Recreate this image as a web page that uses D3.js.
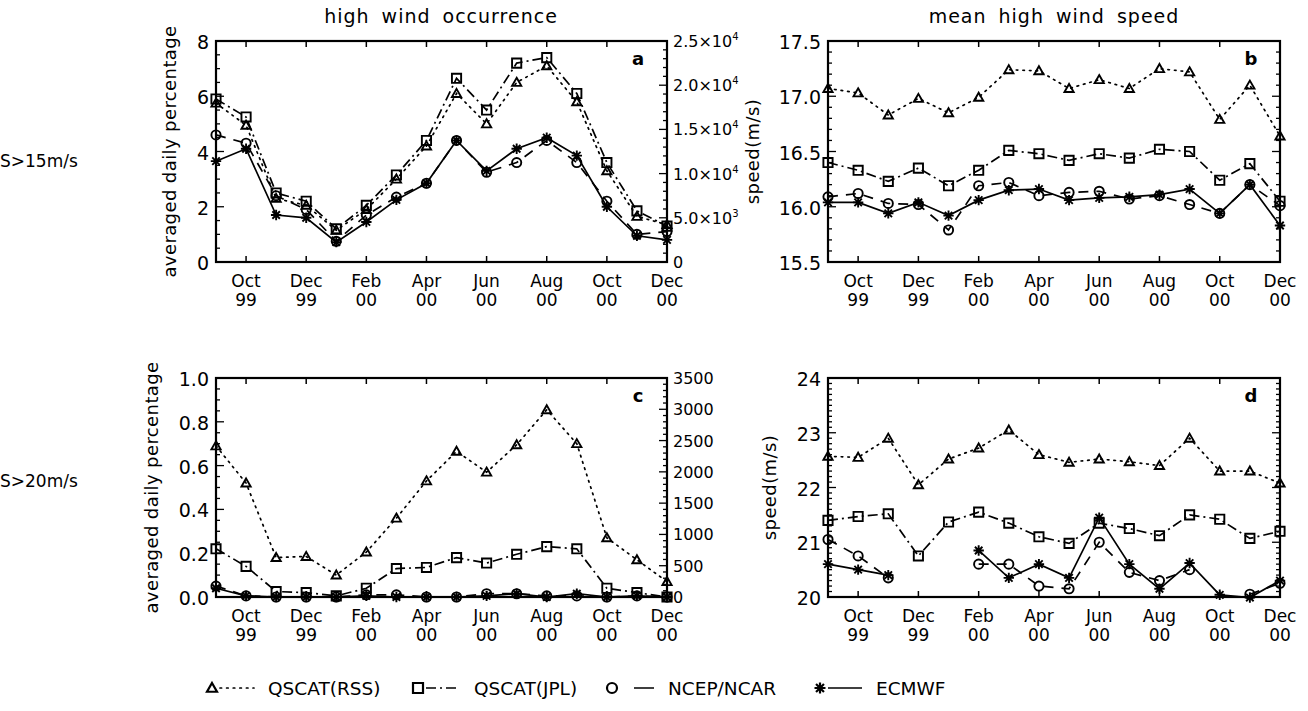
<!DOCTYPE html>
<html>
<head>
<meta charset="utf-8">
<script src="https://cdn.jsdelivr.net/npm/d3@7"></script>
<style>
  body { margin: 0; background: #fff; }
  svg text { font-family: "DejaVu Sans", sans-serif; fill: #000; }
</style>
</head>
<body>
<script>
// months Sep 99 .. Dec 00
const months = ["Sep 99","Oct 99","Nov 99","Dec 99","Jan 00","Feb 00","Mar 00","Apr 00",
                "May 00","Jun 00","Jul 00","Aug 00","Sep 00","Oct 00","Nov 00","Dec 00"];
const tickMonths = [1, 3, 5, 7, 9, 11, 13, 15];
const tickLabels = [["Oct","99"],["Dec","99"],["Feb","00"],["Apr","00"],["Jun","00"],["Aug","00"],["Oct","00"],["Dec","00"]];
const seriesNames = ["QSCAT(RSS)", "QSCAT(JPL)", "NCEP/NCAR", "ECMWF"];

// a: occurrence S>15 (%)
const occ15RSS  = [5.75, 4.95, 2.3, 2.05, 1.15, 1.9, 3.0, 4.2, 6.1, 5.0, 6.5, 7.1, 5.8, 3.3, 1.65, 1.35];
const occ15JPL  = [5.9, 5.25, 2.5, 2.2, 1.2, 2.05, 3.15, 4.4, 6.65, 5.5, 7.2, 7.4, 6.1, 3.6, 1.85, 1.3];
const occ15NCEP = [4.6, 4.3, 2.4, 1.9, 0.75, 1.7, 2.35, 2.85, 4.4, 3.25, 3.6, 4.4, 3.6, 2.2, 1.0, 1.1];
const occ15ECM  = [3.65, 4.1, 1.7, 1.6, 0.72, 1.45, 2.25, 2.85, 4.4, 3.3, 4.1, 4.5, 3.85, 2.0, 0.95, 0.8];

// b: mean speed S>15 (m/s)
const spd15RSS  = [17.07, 17.03, 16.83, 16.98, 16.85, 16.99, 17.24, 17.23, 17.07, 17.15, 17.07, 17.25, 17.22, 16.79, 17.1, 16.64];
const spd15JPL  = [16.4, 16.33, 16.23, 16.35, 16.19, 16.33, 16.51, 16.48, 16.42, 16.48, 16.44, 16.52, 16.5, 16.24, 16.39, 16.05];
const spd15NCEP = [16.09, 16.12, 16.03, 16.02, 15.79, 16.19, 16.22, 16.1, 16.13, 16.14, 16.07, 16.1, 16.02, 15.94, 16.2, 16.01];
const spd15ECM  = [16.04, 16.04, 15.94, 16.04, 15.92, 16.06, 16.15, 16.16, 16.06, 16.08, 16.09, 16.11, 16.16, 15.94, 16.2, 15.83];

// c: occurrence S>20 (%)
const occ20RSS  = [0.69, 0.52, 0.18, 0.185, 0.1, 0.205, 0.36, 0.53, 0.665, 0.57, 0.695, 0.855, 0.7, 0.27, 0.17, 0.07];
const occ20JPL  = [0.22, 0.14, 0.025, 0.02, 0.005, 0.04, 0.13, 0.135, 0.18, 0.155, 0.195, 0.23, 0.22, 0.04, 0.02, 0.0];
const occ20NCEP = [0.05, 0.005, 0.0, 0.0, 0.0, 0.01, 0.01, 0.0, 0.0, 0.015, 0.015, 0.005, 0.005, 0.0, 0.005, 0.0];
const occ20ECM  = [0.04, 0.005, 0.0, 0.0, 0.0, 0.005, 0.0, 0.0, 0.0, 0.005, 0.015, 0.0, 0.015, 0.0, 0.005, 0.0];

// d: mean speed S>20 (m/s)
const spd20RSS  = [22.57, 22.55, 22.9, 22.05, 22.52, 22.72, 23.05, 22.6, 22.46, 22.52, 22.47, 22.4, 22.9, 22.3, 22.3, 22.08];
const spd20JPL  = [21.4, 21.47, 21.52, 20.75, 21.37, 21.55, 21.35, 21.1, 20.98, 21.35, 21.25, 21.12, 21.5, 21.42, 21.07, 21.2];
const spd20NCEP = [21.05, 20.75, 20.35, null, null, 20.6, 20.6, 20.2, 20.15, 21.0, 20.45, 20.3, 20.5, null, 20.05, 20.25];
const spd20ECM  = [20.6, 20.5, 20.4, null, null, 20.85, 20.35, 20.6, 20.35, 21.45, 20.6, 20.15, 20.62, 20.04, 19.99, 20.3];

const W = 1308, H = 711;
const svg = d3.select("body").append("svg").attr("width", W).attr("height", H);

const styles = [
  { marker: "triangle", dash: "1.6,5" },
  { marker: "square",   dash: "10,4,2,4" },
  { marker: "circle",   dash: "10,8" },
  { marker: "asterisk", dash: null }
];

const markerPath = (type, s) => {
  if (type === "triangle") return `M0,${-s}L${s},${s * 0.75}L${-s},${s * 0.75}Z`;
  if (type === "square") return `M${-s},${-s}H${s}V${s}H${-s}Z`;
  if (type === "circle") return d3.symbol(d3.symbolCircle, Math.PI * s * s)();
  const d = s * 0.72;
  return `M${-s},0H${s}M0,${-s}V${s}M${-d},${-d}L${d},${d}M${-d},${d}L${d},${-d}`;
};

const supFmt = v => {
  if (v === 0) return ["0"];
  const e = Math.floor(Math.log10(v));
  return [(v / Math.pow(10, e)).toFixed(1) + "\u00d710", String(e)];
};

const panels = [
  { id: "a", x0: 216, x1: 667, y0: 41, y1: 262, dom: [0, 8], major: 2, minor: 0.5, fmt: d3.format("d"),
    ylabel: "averaged daily percentage", ylabelX: 176, data: [occ15RSS, occ15JPL, occ15NCEP, occ15ECM],
    right: { dom: [0, 25000], major: 5000, minor: 1000, fmt: supFmt } },
  { id: "b", x0: 828, x1: 1280, y0: 41, y1: 262, dom: [15.5, 17.5], major: 0.5, minor: 0.1, fmt: d3.format(".1f"),
    ylabel: "speed(m/s)", ylabelX: 759, data: [spd15RSS, spd15JPL, spd15NCEP, spd15ECM] },
  { id: "c", x0: 216, x1: 667, y0: 378, y1: 597, dom: [0, 1], major: 0.2, minor: 0.05, fmt: d3.format(".1f"),
    ylabel: "averaged daily percentage", ylabelX: 158, data: [occ20RSS, occ20JPL, occ20NCEP, occ20ECM],
    right: { dom: [0, 3500], major: 500, minor: 100, fmt: v => [String(v)] } },
  { id: "d", x0: 828, x1: 1280, y0: 378, y1: 597, dom: [20, 24], major: 1, minor: 0.1, fmt: d3.format("d"),
    ylabel: "speed(m/s)", ylabelX: 776, data: [spd20RSS, spd20JPL, spd20NCEP, spd20ECM] }
];

const range = (a, b, step) => d3.range(Math.round(a / step), Math.round(b / step) + 1).map(i => +(i * step).toFixed(6));

panels.forEach(p => {
  const x = d3.scaleLinear().domain([0, months.length - 1]).range([p.x0, p.x1]);
  const y = d3.scaleLinear().domain(p.dom).range([p.y1, p.y0]);
  const g = svg.append("g");

  // series
  p.data.forEach((vals, si) => {
    const st = styles[si];
    const line = d3.line().defined(v => v !== null).x((v, i) => x(i)).y(v => y(v));
    g.append("path").attr("d", line(vals)).attr("fill", "none").attr("stroke", "#000")
      .attr("stroke-width", 1.7).attr("stroke-dasharray", st.dash)
      .attr("stroke-linecap", st.marker === "triangle" ? "round" : "butt");
    g.selectAll(null).data(vals.map((v, i) => [i, v]).filter(d => d[1] !== null)).enter()
      .append("path")
      .attr("transform", d => `translate(${x(d[0])},${y(d[1])})`)
      .attr("d", markerPath(st.marker, st.marker === "asterisk" ? 5.2 : 4.6))
      .attr("fill", "none").attr("stroke", "#000").attr("stroke-width", 1.9);
  });

  // frame
  g.append("rect").attr("x", p.x0).attr("y", p.y0).attr("width", p.x1 - p.x0).attr("height", p.y1 - p.y0)
    .attr("fill", "none").attr("stroke", "#000").attr("stroke-width", 2.2);

  // x ticks (bottom with labels, top mirrored)
  tickMonths.forEach((m, i) => {
    const xx = x(m);
    g.append("line").attr("x1", xx).attr("x2", xx).attr("y1", p.y1).attr("y2", p.y1 - 6).attr("stroke", "#000").attr("stroke-width", 1.5);
    g.append("line").attr("x1", xx).attr("x2", xx).attr("y1", p.y0).attr("y2", p.y0 + 6).attr("stroke", "#000").attr("stroke-width", 1.5);
    g.append("text").attr("x", xx).attr("y", p.y1 + 25).attr("text-anchor", "middle").attr("font-size", 17).text(tickLabels[i][0]);
    g.append("text").attr("x", xx).attr("y", p.y1 + 44).attr("text-anchor", "middle").attr("font-size", 17).text(tickLabels[i][1]);
  });

  // left y axis
  range(p.dom[0], p.dom[1], p.minor).forEach(v => {
    const isMajor = Math.abs(v / p.major - Math.round(v / p.major)) < 1e-6;
    const yy = y(v), len = isMajor ? 8 : 4;
    g.append("line").attr("x1", p.x0).attr("x2", p.x0 + len).attr("y1", yy).attr("y2", yy).attr("stroke", "#000").attr("stroke-width", 1.3);
    if (!p.right) g.append("line").attr("x1", p.x1).attr("x2", p.x1 - len).attr("y1", yy).attr("y2", yy).attr("stroke", "#000").attr("stroke-width", 1.3);
    if (isMajor) g.append("text").attr("x", p.x0 - 7).attr("y", yy + 8).attr("text-anchor", "end").attr("font-size", 19).text(p.fmt(v));
  });

  // right y axis
  if (p.right) {
    const yr = d3.scaleLinear().domain(p.right.dom).range([p.y1, p.y0]);
    range(p.right.dom[0], p.right.dom[1], p.right.minor).forEach(v => {
      const isMajor = v % p.right.major === 0;
      const yy = yr(v), len = isMajor ? 8 : 4;
      g.append("line").attr("x1", p.x1).attr("x2", p.x1 - len).attr("y1", yy).attr("y2", yy).attr("stroke", "#000").attr("stroke-width", 1.3);
      if (isMajor) {
        const parts = p.right.fmt(v);
        const t = g.append("text").attr("x", p.x1 + 6).attr("y", yy + 6).attr("font-size", 16).text(parts[0]);
        if (parts[1]) t.append("tspan").attr("dy", -7).attr("font-size", 10).text(parts[1]);
      }
    });
  }

  // y label
  const cy = (p.y0 + p.y1) / 2;
  g.append("text").attr("transform", `translate(${p.ylabelX},${cy}) rotate(-90)`).attr("text-anchor", "middle")
    .attr("font-size", 18).attr("letter-spacing", 0.4).text(p.ylabel);

  // panel letter
  g.append("text").attr("x", p.x1 - 29).attr("y", p.y0 + 24).attr("text-anchor", "middle")
    .attr("font-size", 18).attr("font-weight", "bold").text(p.id);
});

// titles and row labels
svg.append("text").attr("x", 441).attr("y", 23).attr("text-anchor", "middle")
  .attr("font-size", 19).attr("letter-spacing", 1).attr("word-spacing", 5).text("high wind occurrence");
svg.append("text").attr("x", 1054).attr("y", 23).attr("text-anchor", "middle")
  .attr("font-size", 19).attr("letter-spacing", 1).attr("word-spacing", 5).text("mean high wind speed");
svg.append("text").attr("x", 0).attr("y", 167).attr("font-size", 17).text("S>15m/s");
svg.append("text").attr("x", 0).attr("y", 487).attr("font-size", 17).text("S>20m/s");

// legend
const legendX = [212, 418, 612, 820];
const legend = svg.append("g");
seriesNames.forEach((name, i) => {
  const lx = legendX[i], ly = 688, st = styles[i];
  legend.append("line").attr("x1", lx + 8).attr("x2", lx + 42).attr("y1", ly).attr("y2", ly)
    .attr("stroke", "#000").attr("stroke-width", 1.7).attr("stroke-dasharray", i === 2 ? "0,14,12" : st.dash)
    .attr("stroke-linecap", st.marker === "triangle" ? "round" : "butt");
  legend.append("path").attr("transform", `translate(${lx},${ly})`).attr("d", markerPath(st.marker, st.marker === "asterisk" ? 5.5 : 5))
    .attr("fill", "none").attr("stroke", "#000").attr("stroke-width", 2.2);
  legend.append("text").attr("x", lx + 56).attr("y", ly + 7).attr("font-family", "DejaVu Sans Condensed")
    .attr("font-size", 18.5).text(name);
});
</script>
</body>
</html>
